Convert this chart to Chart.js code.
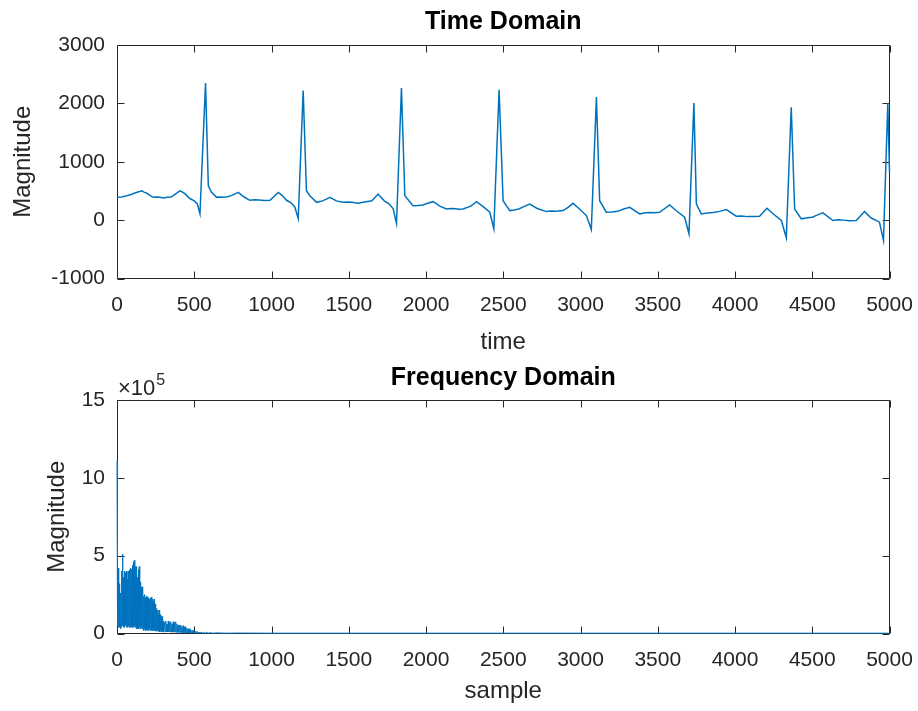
<!DOCTYPE html>
<html><head><meta charset="utf-8">
<script src="https://cdn.jsdelivr.net/npm/chart.js@4.4.1/dist/chart.umd.min.js"></script>
<style>
html,body{margin:0;padding:0;background:#fff;width:918px;height:711px;overflow:hidden}
canvas{position:absolute;left:0}
#c1{top:0}
#c2{top:355px}
</style></head><body>
<canvas id="c1" width="918" height="355"></canvas>
<canvas id="c2" width="918" height="356"></canvas>
<script>
// ---- Data ----
const xTickValues = [0,500,1000,1500,2000,2500,3000,3500,4000,4500,5000];
const timeYTicks = [-1000,0,1000,2000,3000];
const freqYTicks = [0,5,10,15]; // ×10^5

// Time domain: [sample, magnitude]
const timePoints = [
[0,390],[30,395],[63,418],[90,440],[120,470],[160,503],[175,480],[192,463],[215,420],[235,390],[260,395],[278,390],[300,380],[325,392],[350,395],
[380,450],[407,500],[425,480],[440,450],[472,370],[500,330],[520,277],[537,107],[573,2348],[591,588],[612,475],[645,390],
[665,395],[686,390],[715,400],[740,420],[785,475],[820,400],[860,340],[890,350],[920,345],[955,335],[990,340],[1044,475],[1070,420],
[1097,340],[1125,300],[1151,226],[1173,26],[1205,2220],[1226,503],[1248,418],[1292,305],[1330,330],
[1355,360],[1378,390],[1420,330],[1464,305],[1500,310],[1530,300],[1560,290],[1593,305],[1650,330],[1690,446],[1730,330],
[1760,280],[1787,198],[1809,-57],[1841,2263],[1863,418],[1916,248],[1950,250],[1980,260],[2010,290],[2046,316],[2090,240],
[2132,191],[2160,200],[2190,195],[2215,185],[2240,191],[2290,240],[2327,316],[2370,230],[2413,135],[2439,-149],
[2473,2234],[2499,333],[2542,163],[2570,175],[2600,190],[2640,240],[2671,276],[2720,200],[2779,146],[2810,155],[2840,150],
[2887,163],[2920,220],[2951,288],[2990,200],[3038,78],[3070,-160],[3103,2110],[3124,333],[3167,135],
[3200,140],[3240,150],[3280,190],[3318,220],[3383,107],[3420,125],[3450,130],[3480,128],[3512,135],[3577,260],[3620,160],[3674,50],
[3702,-234],[3734,2008],[3750,276],[3782,107],[3820,120],[3860,130],[3900,150],[3944,180],[4008,67],[4040,70],[4080,60],
[4120,62],[4159,67],[4207,203],[4250,100],[4300,-7],[4332,-302],[4364,1934],[4386,192],[4429,22],
[4470,40],[4500,50],[4535,90],[4569,124],[4634,-7],[4670,5],[4700,0],[4740,-10],[4785,-7],[4838,146],[4880,40],[4935,-35],
[4961,-347],[4989,2008],[5000,815]
];

// Frequency domain: [sample, magnitude ×10^5]
const freqPoints = [
[0,11.1],[1,3.0],[2,0.6],[4,4.3],[6,0.5],[8,4.2],[10,0.4],[12,2.0],[14,0.5],[16,3.2],[18,0.4],[20,2.6],
[22,0.3],[24,1.8],[26,0.4],[28,3.0],[30,0.5],[32,4.0],[34,0.6],[36,5.1],[38,0.5],[40,3.6],[42,0.4],
[44,2.8],[46,0.5],[48,4.0],[50,0.4],[52,3.2],[54,0.5],[56,3.9],[58,0.6],[60,4.0],[62,0.4],[64,2.9],
[66,0.5],[68,3.5],[70,0.4],[72,4.0],[74,0.5],[76,3.3],[78,0.4],[80,4.1],[82,0.5],[84,3.8],[86,0.4],
[88,4.2],[90,0.5],[92,3.4],[94,0.4],[96,4.1],[98,0.5],[100,4.4],[102,0.4],[104,3.7],[106,0.5],
[108,4.6],[110,0.4],[112,4.7],[114,0.5],[116,4.6],[118,0.4],[120,4.3],[122,0.4],[124,3.9],[126,0.3],
[128,4.3],[130,0.4],[132,3.6],[134,0.3],[136,3.4],[138,0.4],[140,4.1],[142,0.3],[144,4.3],[146,0.4],
[148,3.5],[150,0.3],[152,3.3],[154,0.3],[156,2.9],[158,0.4],[160,3.0],[162,0.3],[164,2.6],[166,0.3],
[168,3.0],[170,0.3],[172,2.4],[174,0.2],[176,2.2],[178,0.3],[180,2.5],[182,0.2],[184,2.3],[186,0.3],
[188,2.0],[190,0.2],[192,2.4],[194,0.3],[196,2.35],[198,0.2],[200,2.1],[202,0.3],[204,2.3],[206,0.2],
[208,2.2],[210,0.3],[212,2.0],[214,0.2],[216,2.3],[218,0.2],[220,2.2],[222,0.3],[224,2.35],[226,0.2],
[228,1.9],[230,0.2],[232,2.2],[234,0.2],[236,2.0],[238,0.2],[240,2.2],[242,0.2],[244,1.7],[246,0.2],
[248,1.9],[250,0.15],[252,1.5],[254,0.2],[256,1.6],[258,0.15],[260,1.3],[262,0.2],[264,1.5],[266,0.15],
[268,1.2],[270,0.15],[272,1.5],[274,0.15],[276,1.1],[278,0.1],[280,1.2],[282,0.15],[284,1.0],[286,0.1],
[288,1.1],[290,0.15],[292,0.9],[294,0.1],[296,1.1],[298,0.1],[300,0.8],[304,0.1],[308,0.7],[312,0.1],
[316,0.8],[320,0.1],[324,0.6],[328,0.1],[332,0.8],[336,0.1],[340,0.7],[344,0.1],[348,0.75],[352,0.08],
[356,0.6],[360,0.1],[364,0.75],[368,0.08],[372,0.7],[376,0.1],[380,0.75],[384,0.08],[388,0.6],[392,0.08],
[396,0.55],[400,0.06],[404,0.5],[408,0.08],[412,0.55],[416,0.06],[420,0.45],[424,0.06],[428,0.5],
[432,0.05],[436,0.4],[440,0.05],[444,0.45],[448,0.04],[452,0.35],[456,0.04],[460,0.3],[464,0.04],
[468,0.3],[472,0.03],[476,0.25],[480,0.03],[484,0.2],[488,0.03],[492,0.2],[496,0.02],[500,0.15],
[505,0.02],[510,0.15],[515,0.02],[520,0.12],[525,0.02],[530,0.1],[538,0.02],[545,0.1],[552,0.02],
[560,0.08],[570,0.02],[580,0.06],[590,0.02],[600,0.05],[620,0.02],[650,0.04],[700,0.02],[800,0.03],
[1000,0.02],[1500,0.02],[2000,0.02],[2500,0.02],[3000,0.02],[3500,0.02],[4000,0.02],[4500,0.02],[5000,0.02]
];

// ---- Styling ----
const FONT = "'Liberation Sans', Arial, Helvetica, sans-serif";
const AXIS_COLOR = '#262626';
const LINE_COLOR = '#0072BD';

const boxPlugin = {
  id: 'matlabBox',
  beforeDatasetsDraw(chart, args, opts) {
    const {ctx, chartArea: a, scales: {x, y}} = chart;
    ctx.save();
    ctx.strokeStyle = AXIS_COLOR;
    ctx.lineWidth = 1;
    const L = Math.round(a.left) + 0.5, R = Math.round(a.right) - 0.5;
    const T = Math.round(a.top) + 0.5, B = Math.round(a.bottom) - 0.5;
    ctx.beginPath();
    ctx.rect(L, T, R - L, B - T);
    const tl = 7;
    x.ticks.forEach(t => {
      const px = Math.round(x.getPixelForValue(t.value)) + 0.5;
      ctx.moveTo(px, B); ctx.lineTo(px, B - tl);
      ctx.moveTo(px, T); ctx.lineTo(px, T + tl);
    });
    y.ticks.forEach(t => {
      const py = Math.round(y.getPixelForValue(t.value)) + 0.5;
      ctx.moveTo(L, py); ctx.lineTo(L + tl, py);
      ctx.moveTo(R, py); ctx.lineTo(R - tl, py);
    });
    ctx.stroke();
    if (opts && opts.exponent) {
      ctx.fillStyle = AXIS_COLOR;
      ctx.textBaseline = 'alphabetic';
      ctx.textAlign = 'left';
      ctx.font = '22px ' + FONT;
      const base = '\u00D710';
      ctx.fillText(base, a.left + 1, a.top - 5);
      const w = ctx.measureText(base).width;
      ctx.font = '16px ' + FONT;
      ctx.fillText(opts.exponent, a.left + 1 + w + 1, a.top - 15);
    }
    ctx.restore();
  }
};

const plainLabel = v => String(v);

function makeChart(id, points, cfg) {
  const canvas = document.getElementById(id);
  return new Chart(canvas, {
    type: 'line',
    data: {
      datasets: [{
        data: points.map(p => ({x: p[0], y: p[1]})),
        borderColor: LINE_COLOR,
        borderWidth: cfg.lineWidth,
        pointRadius: 0,
        tension: 0,
        fill: false,
        clip: 3
      }]
    },
    plugins: [boxPlugin],
    options: {
      responsive: false,
      animation: false,
      events: [],
      devicePixelRatio: 1,
      layout: {padding: {left: 0, right: 28.5, top: 0, bottom: 0}},
      plugins: {
        legend: {display: false},
        tooltip: {enabled: false},
        title: {
          display: true, text: cfg.title, color: '#000', fullSize: false,
          font: {family: FONT, size: 25, weight: 'bold'},
          padding: {top: cfg.titleTop, bottom: 45 - 30 - cfg.titleTop}
        },
        matlabBox: {exponent: cfg.exponent || null}
      },
      scales: {
        x: {
          type: 'linear', min: 0, max: 5000,
          grid: {display: false, drawTicks: false, tickLength: 0},
          border: {display: false},
          afterBuildTicks: s => { s.ticks = xTickValues.map(v => ({value: v})); },
          afterFit: s => { s.height = cfg.xHeight; s.paddingLeft = 0; s.paddingRight = 0; },
          ticks: {color: AXIS_COLOR, font: {family: FONT, size: 21}, padding: 14, maxRotation: 0, autoSkip: false, callback: plainLabel},
          title: {display: true, text: cfg.xTitle, color: AXIS_COLOR,
                  font: {family: FONT, size: 24}, padding: {top: 0, bottom: cfg.xTitlePad}}
        },
        y: {
          type: 'linear', min: cfg.yMin, max: cfg.yMax,
          grid: {display: false, drawTicks: false, tickLength: 0},
          border: {display: false},
          afterBuildTicks: s => { s.ticks = cfg.yTicks.map(v => ({value: v})); },
          afterFit: s => { s.width = 117; s.paddingTop = 0; s.paddingBottom = 0; },
          ticks: {color: AXIS_COLOR, font: {family: FONT, size: 21}, padding: 12, callback: plainLabel},
          title: {display: true, text: 'Magnitude', color: AXIS_COLOR,
                  font: {family: FONT, size: 24}, padding: {top: cfg.yTitlePad, bottom: 0}}
        }
      }
    }
  });
}

makeChart('c1', timePoints, {
  title: 'Time Domain', titleTop: 7.5, xTitle: 'time', xHeight: 76.5, xTitlePad: -2,
  yMin: -1000, yMax: 3000, yTicks: timeYTicks, yTitlePad: 9, lineWidth: 1.5
});
makeChart('c2', freqPoints, {
  title: 'Frequency Domain', titleTop: 8.5, xTitle: 'sample', xHeight: 77.5, xTitlePad: 5,
  yMin: 0, yMax: 15, yTicks: freqYTicks, yTitlePad: 43, lineWidth: 1, exponent: '5'
});
</script>
</body></html>
